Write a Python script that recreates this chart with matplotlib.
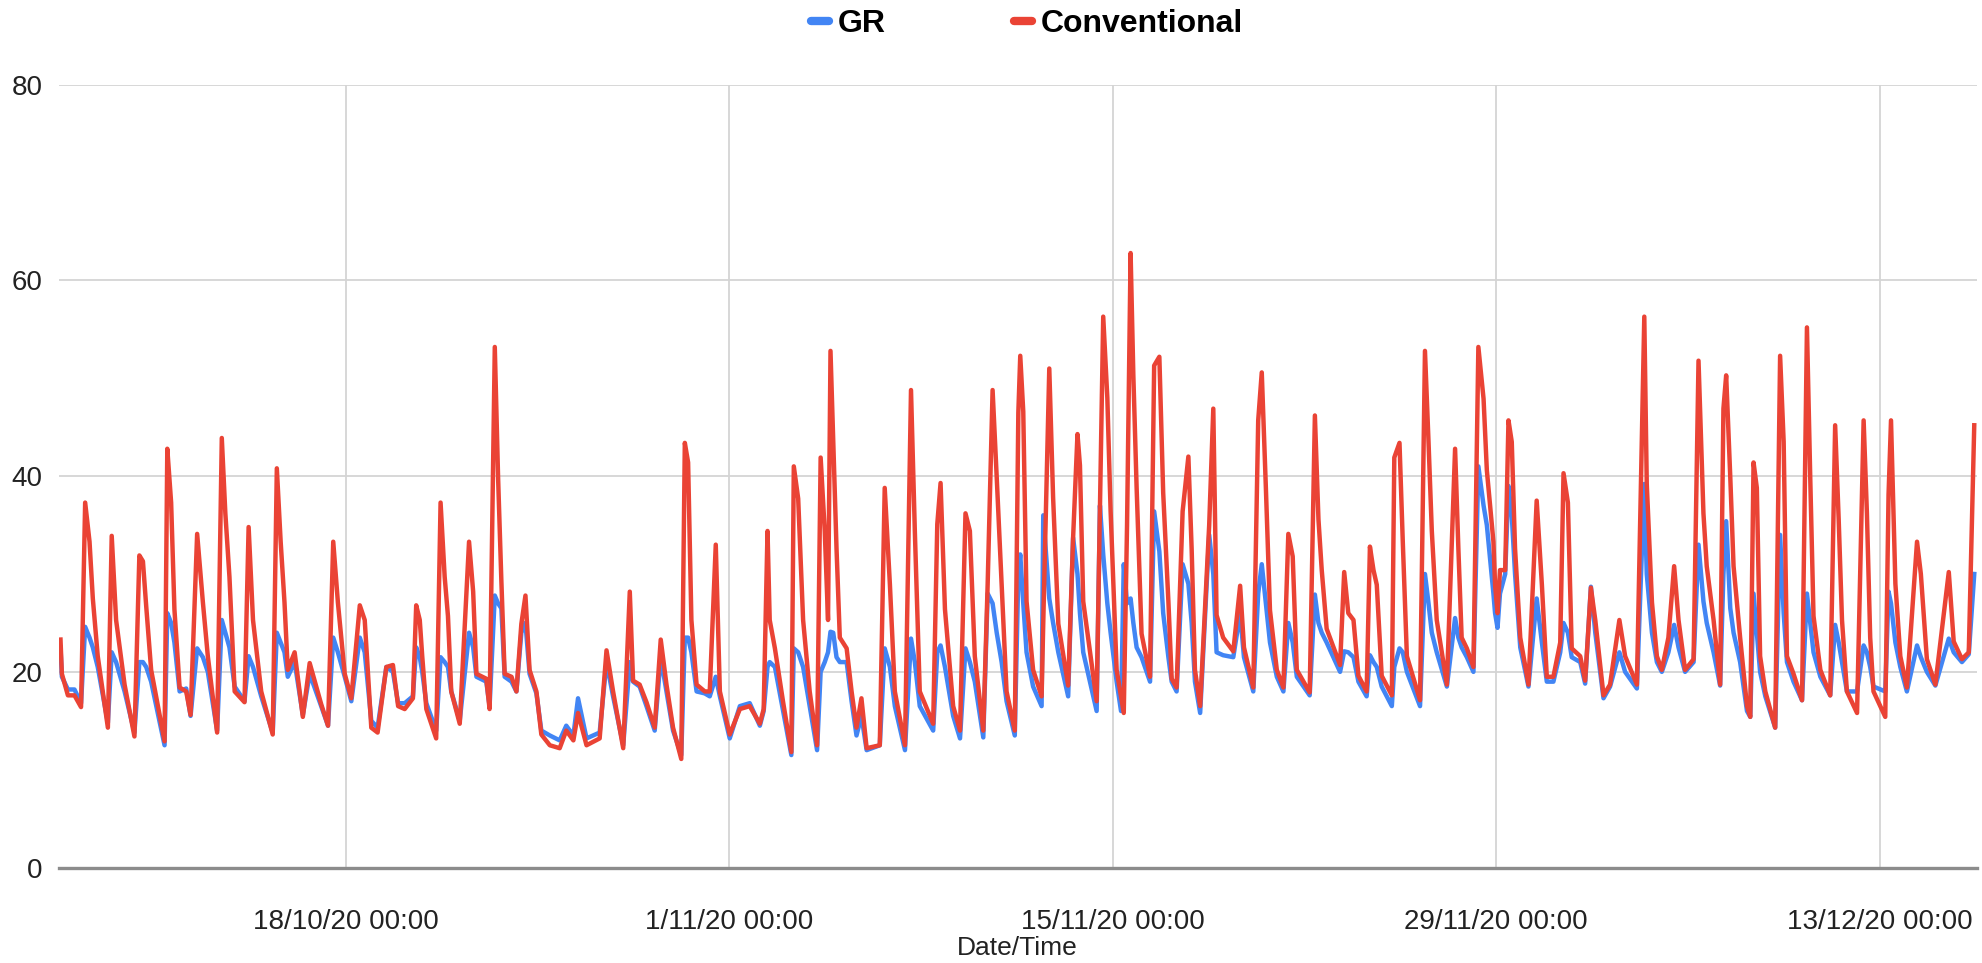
import datetime as dt
import matplotlib
matplotlib.use('Agg')
import matplotlib.pyplot as plt
import matplotlib.dates as mdates
from matplotlib.lines import Line2D
import pandas as pd

# days relative to 18/10/20 00:00, key points
days = [
    -10.43, -10.38, -10.16, -9.92, -9.68, -9.53, -9.37, -9.25, -9.07, -8.70,
    -8.56, -8.40, -8.09, -7.73, -7.55, -7.42, -7.30, -7.12, -6.63, -6.53,
    -6.39, -6.27, -6.08, -5.84, -5.68, -5.44, -5.23, -5.05, -4.71, -4.54,
    -4.41, -4.26, -4.07, -3.71, -3.56, -3.40, -3.10, -2.68, -2.53, -2.39,
    -2.25, -2.13, -1.88, -1.58, -1.33, -0.91, -0.66, -0.47, -0.30, -0.05,
    0.19, 0.50, 0.68, 0.92, 1.15, 1.47, 1.71, 1.90, 2.14, 2.44,
    2.56, 2.69, 2.78, 2.93, 3.29, 3.45, 3.60, 3.72, 3.84, 4.15,
    4.49, 4.64, 4.76, 5.12, 5.24, 5.43, 5.55, 5.67, 5.79, 6.04,
    6.22, 6.40, 6.55, 6.70, 6.95, 7.13, 7.44, 7.80, 8.04, 8.30,
    8.47, 8.78, 9.26, 9.51, 9.75, 10.12, 10.36, 10.48, 10.72, 10.97,
    11.27, 11.49, 11.70, 11.94, 12.24, 12.37, 12.49, 12.61, 12.80, 13.10,
    13.28, 13.50, 13.65, 14.01, 14.38, 14.74, 15.11, 15.25, 15.39, 15.47,
    15.66, 15.96, 16.26, 16.35, 16.51, 16.69, 16.93, 17.20, 17.33, 17.48,
    17.60, 17.69, 17.79, 17.91, 18.03, 18.28, 18.46, 18.64, 18.82, 19.01,
    19.49, 19.67, 19.86, 20.04, 20.41, 20.63, 20.77, 20.95, 21.44, 21.59,
    21.71, 21.87, 22.17, 22.42, 22.62, 22.78, 22.96, 23.27, 23.43, 23.61,
    23.76, 23.94, 24.12, 24.42, 24.55, 24.62, 24.73, 24.85, 25.09, 25.40,
    25.46, 25.68, 25.82, 26.01, 26.37, 26.55, 26.71, 26.80, 26.92, 27.41,
    27.53, 27.65, 27.80, 27.92, 28.14, 28.30, 28.40, 28.52, 28.65, 28.75,
    28.87, 29.05, 29.36, 29.51, 29.70, 29.84, 30.03, 30.15, 30.33, 30.55,
    30.76, 30.88, 31.00, 31.19, 31.52, 31.67, 31.79, 32.03, 32.40, 32.65,
    32.79, 33.13, 33.31, 33.44, 33.59, 33.74, 33.99, 34.23, 34.41, 34.57,
    34.72, 35.19, 35.38, 35.51, 35.63, 35.81, 36.30, 36.45, 36.60, 36.79,
    36.97, 37.27, 37.39, 37.52, 37.64, 37.82, 38.19, 38.28, 38.47, 38.59,
    38.74, 39.22, 39.40, 39.53, 39.65, 39.83, 40.20, 40.50, 40.62, 40.74,
    40.93, 41.17, 41.35, 41.54, 41.66, 41.90, 41.96, 42.05, 42.14, 42.33,
    42.45, 42.57, 42.69, 42.88, 43.18, 43.48, 43.67, 43.85, 44.09, 44.34,
    44.46, 44.62, 44.76, 45.07, 45.25, 45.46, 45.62, 45.92, 46.16, 46.50,
    46.71, 47.14, 47.41, 47.50, 47.69, 47.87, 48.05, 48.29, 48.50, 48.66,
    48.90, 49.21, 49.39, 49.57, 49.69, 49.94, 50.18, 50.30, 50.40, 50.55,
    50.67, 50.91, 51.16, 51.28, 51.40, 51.52, 51.64, 51.83, 52.19, 52.37,
    52.50, 52.62, 52.86, 53.17, 53.35, 53.47, 53.59, 53.84, 54.20, 54.38,
    54.51, 54.63, 54.81, 55.18, 55.42, 55.54, 55.66, 55.78, 56.21, 56.33,
    56.42, 56.58, 56.76, 57.00, 57.37, 57.51, 57.73, 58.04, 58.53, 58.71,
    59.01, 59.26, 59.46,
]

conventional = [
    23.3, 19.8, 17.6, 17.6, 16.4, 37.3, 33.3, 27.5, 21.6, 14.3,
    33.9, 25.3, 18.7, 13.4, 31.9, 31.3, 26.7, 20.2, 12.9, 42.8,
    37.3, 26.4, 18.4, 18.0, 15.6, 34.1, 27.1, 21.6, 13.8, 43.9,
    36.2, 29.7, 18.0, 16.9, 34.8, 25.3, 18.0, 13.6, 40.8, 33.3,
    27.1, 20.2, 22.0, 15.4, 20.9, 16.7, 14.5, 33.3, 27.1, 19.8,
    17.3, 26.8, 25.3, 14.3, 13.8, 20.5, 20.7, 16.5, 16.2, 17.3,
    26.8, 25.3, 21.6, 16.2, 13.2, 37.3, 29.7, 25.7, 18.0, 14.7,
    33.3, 28.2, 19.8, 19.3, 16.2, 53.2, 39.9, 29.3, 19.8, 19.5,
    18.0, 24.9, 27.8, 20.2, 18.0, 13.6, 12.5, 12.2, 14.0, 13.0,
    15.8, 12.5, 13.2, 22.2, 18.0, 12.2, 28.2, 19.1, 18.7, 16.9,
    14.3, 23.3, 18.7, 14.3, 11.1, 43.4, 41.4, 25.3, 18.7, 18.0,
    18.0, 33.0, 18.0, 13.6, 16.2, 16.5, 14.7, 16.2, 34.4, 25.3,
    22.4, 16.9, 11.8, 41.0, 37.7, 25.3, 18.0, 12.5, 41.9, 34.4,
    25.3, 52.8, 43.5, 32.6, 23.5, 22.4, 18.0, 14.3, 17.3, 12.2,
    12.5, 38.8, 28.9, 18.0, 12.5, 48.8, 34.4, 18.0, 14.7, 35.1,
    39.3, 26.4, 16.5, 14.0, 36.2, 34.4, 21.6, 14.0, 29.0, 48.8,
    39.9, 28.9, 18.0, 14.0, 46.5, 52.3, 46.6, 27.2, 20.2, 17.5,
    25.0, 51.0, 37.8, 24.9, 18.6, 33.7, 44.3, 41.1, 27.2, 17.0,
    36.4, 56.3, 48.0, 36.4, 20.2, 17.5, 15.8, 35.0, 62.8, 50.3,
    38.8, 23.9, 19.5, 51.3, 52.2, 38.3, 27.2, 19.3, 18.4, 36.4,
    42.0, 32.5, 20.2, 16.5, 35.0, 46.9, 25.8, 23.5, 22.1, 28.8,
    22.5, 18.4, 45.7, 50.6, 38.8, 26.3, 20.2, 18.4, 34.1, 31.8,
    20.2, 17.9, 46.2, 35.6, 30.4, 24.4, 20.7, 30.2, 26.0, 25.3,
    19.6, 18.0, 32.8, 30.4, 28.9, 19.6, 17.6, 41.9, 43.4, 33.3,
    21.6, 17.1, 52.8, 43.5, 34.4, 25.3, 18.7, 42.8, 32.6, 23.5,
    22.4, 20.5, 53.2, 47.9, 40.6, 33.3, 28.9, 26.0, 30.4, 30.4,
    45.7, 43.5, 32.6, 23.5, 18.7, 37.5, 28.9, 19.5, 19.5, 23.0,
    40.3, 37.3, 22.4, 21.6, 19.1, 28.6, 25.3, 17.6, 18.7, 25.3,
    21.6, 18.7, 56.3, 39.2, 27.1, 21.6, 20.2, 23.5, 30.8, 25.3,
    20.2, 21.3, 51.8, 36.2, 30.8, 25.3, 18.7, 46.9, 50.3, 39.9,
    30.8, 23.5, 16.5, 15.4, 41.4, 38.8, 21.6, 18.0, 14.3, 52.3,
    43.5, 21.6, 19.8, 17.1, 55.2, 39.9, 25.7, 20.2, 17.6, 45.2,
    35.5, 25.3, 18.0, 15.8, 45.7, 36.2, 23.5, 18.0, 15.4, 38.1,
    45.7, 29.0, 21.6, 18.4, 33.3, 30.0, 21.3, 18.7, 30.2, 23.1,
    21.3, 22.0, 45.2,
]

gr = [
    22.5, 19.5, 18.2, 18.2, 16.8, 24.6, 23.5, 22.5, 20.5, 14.8,
    22.0, 21.0, 18.0, 13.8, 21.0, 21.0, 20.5, 19.0, 12.5, 26.0,
    25.0, 23.0, 18.0, 18.3, 15.5, 22.4, 21.5, 20.0, 14.0, 25.3,
    24.0, 22.5, 18.5, 17.0, 21.6, 20.5, 17.5, 13.8, 24.0, 23.0,
    22.0, 19.5, 21.0, 15.6, 19.8, 16.5, 14.5, 23.5, 22.0, 19.5,
    17.0, 23.5, 22.0, 15.0, 14.3, 20.5, 20.0, 16.8, 16.8, 17.5,
    22.5, 21.5, 20.0, 16.8, 14.0, 21.5, 21.0, 20.5, 18.0, 15.0,
    24.0, 22.5, 19.5, 19.0, 16.5, 27.8, 27.0, 26.5, 19.5, 19.0,
    18.0, 24.0, 25.0, 19.8, 17.8, 14.0, 13.5, 13.0, 14.5, 13.5,
    17.3, 13.2, 13.8, 21.0, 17.5, 12.5, 21.0, 19.0, 18.5, 16.5,
    14.0, 21.5, 18.0, 14.0, 11.5, 23.5, 23.5, 22.0, 18.0, 17.8,
    17.5, 19.5, 17.5, 13.2, 16.5, 16.8, 14.5, 16.0, 20.5, 21.0,
    20.5, 16.0, 11.5, 22.4, 22.0, 20.5, 16.5, 12.0, 20.0, 21.0,
    22.0, 24.1, 24.0, 21.5, 21.0, 21.0, 17.0, 13.5, 15.5, 12.0,
    12.5, 22.4, 20.5, 16.5, 12.0, 23.4, 21.0, 16.5, 14.0, 22.0,
    22.7, 20.5, 15.5, 13.2, 22.4, 21.0, 19.0, 13.3, 28.0, 27.0,
    24.0, 21.0, 17.0, 13.5, 30.0, 32.0, 27.0, 22.0, 18.5, 16.5,
    36.0, 27.5, 25.0, 22.0, 17.5, 33.7, 30.0, 26.0, 22.0, 16.0,
    37.0, 32.0, 27.0, 24.0, 19.0, 16.0, 31.0, 27.0, 27.5, 25.0,
    22.5, 21.5, 19.0, 36.4, 32.3, 26.0, 21.5, 19.0, 18.0, 31.0,
    29.0, 25.0, 19.0, 15.8, 34.0, 30.0, 22.0, 21.7, 21.5, 26.0,
    21.5, 18.0, 28.0, 31.0, 27.0, 23.0, 19.5, 18.0, 25.0, 23.0,
    19.5, 17.6, 27.9, 25.0, 24.0, 23.0, 20.0, 22.1, 22.0, 21.5,
    19.0, 17.5, 21.7, 21.0, 20.5, 18.5, 16.5, 20.5, 22.4, 22.0,
    20.0, 16.5, 30.0, 27.0, 24.0, 22.0, 18.5, 25.5, 23.5, 22.5,
    21.5, 20.0, 41.0, 37.0, 35.0, 28.0, 26.0, 24.5, 28.0, 30.0,
    39.0, 36.0, 30.0, 22.5, 18.5, 27.5, 23.0, 19.0, 19.0, 22.0,
    25.0, 24.0, 21.5, 21.0, 18.8, 28.7, 24.0, 17.3, 18.5, 22.0,
    20.0, 18.3, 39.2, 30.0, 24.0, 21.0, 20.0, 22.0, 24.8, 22.5,
    20.0, 21.0, 33.0, 27.2, 25.0, 22.0, 18.6, 30.0, 35.4, 26.5,
    24.0, 21.0, 16.0, 15.4, 28.0, 24.0, 20.0, 17.5, 14.3, 34.0,
    26.0, 21.0, 19.0, 17.1, 28.0, 25.0, 22.0, 19.5, 17.6, 24.8,
    23.0, 21.0, 18.0, 18.0, 22.7, 22.0, 20.5, 18.5, 18.0, 28.2,
    27.0, 23.0, 20.5, 18.0, 22.7, 21.5, 20.0, 18.6, 23.4, 22.0,
    21.0, 21.8, 30.0,
]

tick_labels = ["18/10/20 00:00", "1/11/20 00:00", "15/11/20 00:00",
               "29/11/20 00:00", "13/12/20 00:00"]
tick_dates = [dt.datetime(2020, 10, 18), dt.datetime(2020, 11, 1),
              dt.datetime(2020, 11, 15), dt.datetime(2020, 11, 29),
              dt.datetime(2020, 12, 13)]
y_ticks = [0, 20, 40, 60, 80]

BLUE = '#4285F4'
RED = '#EA4335'

plt.rcParams['font.family'] = ['Liberation Sans', 'DejaVu Sans']

base = pd.Timestamp('2020-10-18')
times = base + pd.to_timedelta(days, unit='D')

fig = plt.figure(figsize=(19.83, 9.63), dpi=100)
ax = fig.add_axes([0.02996, 0.09907, 0.96687, 0.81298])

ax.plot(times, gr, color=BLUE, linewidth=3.2, solid_joinstyle='round', zorder=3)
ax.plot(times, conventional, color=RED, linewidth=3.2, solid_joinstyle='round', zorder=4)

x0 = mdates.date2num(base) - 10.47
x1 = mdates.date2num(base) + 59.55
ax.set_xlim(x0, x1)
ax.set_ylim(0, 80)

ax.set_yticks(y_ticks)
ax.set_yticklabels([str(v) for v in y_ticks])
ax.set_xticks(mdates.date2num(tick_dates))
ax.set_xticklabels(tick_labels)

ax.tick_params(axis='both', length=0, labelsize=20, colors='#222222')
ax.tick_params(axis='x', pad=30)
ax.tick_params(axis='y', pad=12)

ax.grid(True, color='#d4d4d4', linewidth=1.3)
ax.set_axisbelow(True)
for s in ['top', 'right', 'left']:
    ax.spines[s].set_visible(False)
ax.spines['bottom'].set_color('#8c8c8c')
ax.spines['bottom'].set_linewidth(2.4)
ax.spines['bottom'].set_zorder(2)

handles = [Line2D([0], [0], color=BLUE, linewidth=6, solid_capstyle='round'),
           Line2D([0], [0], color=RED, linewidth=6, solid_capstyle='round')]
fig.legend(handles, ['GR', 'Conventional'], loc='center',
           bbox_to_anchor=(0.518, 0.975), ncol=2, frameon=False,
           handlelength=0.55, handletextpad=0.3, columnspacing=4.0,
           prop={'size': 23, 'weight': 'bold'})

fig.text(0.513, 0.003, 'Date/Time', ha='center', va='bottom', fontsize=19, color='#222222')

fig.savefig('out.png', dpi=100, facecolor='white')
